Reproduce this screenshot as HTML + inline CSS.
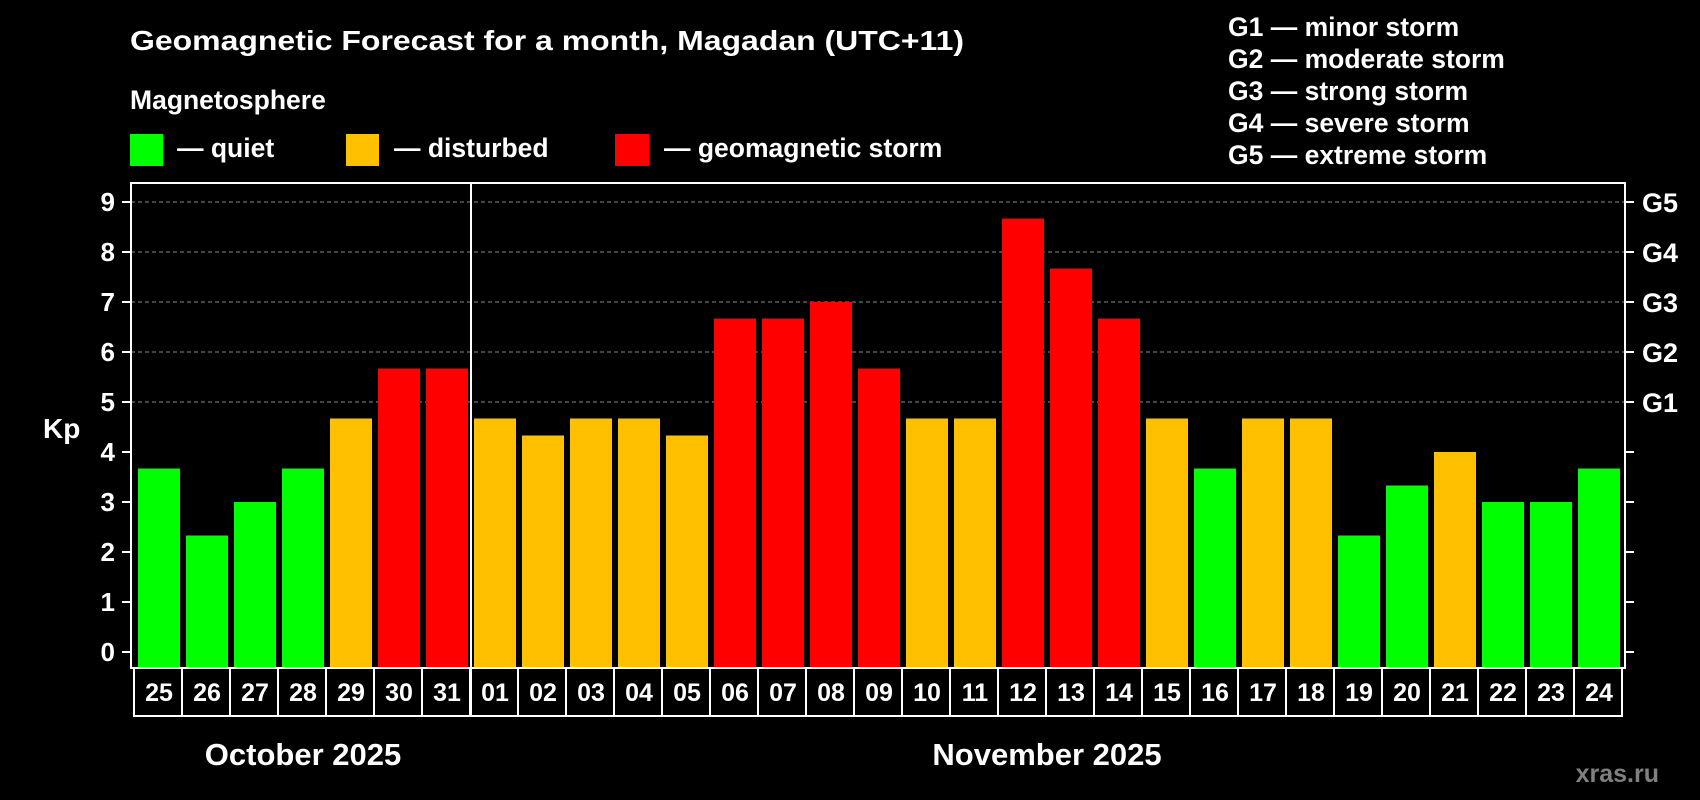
<!DOCTYPE html>
<html><head><meta charset="utf-8"><style>
html,body{margin:0;padding:0;background:#000;width:1700px;height:800px;overflow:hidden}
svg text{font-family:"Liberation Sans",Arial,sans-serif;font-weight:bold;fill:#fff}
</style></head><body>
<svg id="chart" width="1700" height="800" viewBox="0 0 1700 800" xmlns="http://www.w3.org/2000/svg">
<rect width="1700" height="800" fill="#000"/>
<text x="130" y="50" font-size="28" textLength="834" lengthAdjust="spacingAndGlyphs">Geomagnetic Forecast for a month, Magadan (UTC+11)</text>
<text x="130" y="109" font-size="26.5">Magnetosphere</text>
<g><rect x="130" y="134" width="33" height="32" fill="#00ff00"/><text x="177" y="157" font-size="26.5">— quiet</text></g>
<g><rect x="346" y="134" width="33" height="32" fill="#ffc000"/><text x="394" y="157" font-size="26.5">— disturbed</text></g>
<g><rect x="615" y="134" width="34" height="32" fill="#ff0000"/><text x="664" y="157" font-size="26.5">— geomagnetic storm</text></g>
<g font-size="26.5">
<text x="1228" y="36">G1 — minor storm</text>
<text x="1228" y="68">G2 — moderate storm</text>
<text x="1228" y="100">G3 — strong storm</text>
<text x="1228" y="132">G4 — severe storm</text>
<text x="1228" y="164">G5 — extreme storm</text>
</g>
<g id="grid"></g><g id="bars"></g><g id="axes"></g>
<text x="43" y="438" font-size="28">Kp</text>
<text x="303" y="765" font-size="31" text-anchor="middle">October 2025</text>
<text x="1047" y="765" font-size="31" text-anchor="middle">November 2025</text>
<text x="1659" y="782" font-size="25" text-anchor="end" style="fill:#808080">xras.ru</text>
</svg>
<script>
const days = ["25","26","27","28","29","30","31","01","02","03","04","05","06","07","08","09","10","11","12","13","14","15","16","17","18","19","20","21","22","23","24"];
const kpValues = [3.67,2.33,3,3.67,4.67,5.67,5.67,4.67,4.33,4.67,4.67,4.33,6.67,6.67,7,5.67,4.67,4.67,8.67,7.67,6.67,4.67,3.67,4.67,4.67,2.33,3.33,4,3,3,3.67];
const yTicks = [0,1,2,3,4,5,6,7,8,9];
const gLabels = ["G1","G2","G3","G4","G5"];
const gLevels = [5,6,7,8,9];

const NS="http://www.w3.org/2000/svg";
const L=131,R=1625,T=183,B=668,X0=138,PITCH=48,BW=42;
const y=v=>652-50*v;
const x=i=>X0+i*PITCH;
function mk(tag,attrs,parent){const e=document.createElementNS(NS,tag);for(const k in attrs)e.setAttribute(k,attrs[k]);parent.appendChild(e);return e;}
const grid=document.getElementById('grid'),bars=document.getElementById('bars'),axes=document.getElementById('axes');
yTicks.forEach(v=>{
  if(v>=5){const g=mk('line',{x1:L,x2:R,y1:y(v),y2:y(v),stroke:'#8a8a8a','stroke-width':1,'stroke-dasharray':'4 3'},grid);
  
  }
  const t=mk('line',{x1:L-9,x2:L,y1:y(v),y2:y(v),stroke:'#fff','stroke-width':2},axes);
  
  
  const t2=mk('line',{x1:R,x2:R+9,y1:y(v),y2:y(v),stroke:'#fff','stroke-width':2},axes);
  
  
  const lb=mk('text',{x:115,y:y(v)+9,'font-size':26,'text-anchor':'end'},axes);lb.textContent=v;
  
  
});
gLabels.forEach((g,i)=>{
  const lb=mk('text',{x:1642,y:y(gLevels[i])+10,'font-size':27},axes);lb.textContent=g;
  
  
});
kpValues.forEach((v,i)=>{
  const c=v>=5?'#ff0000':(v>=4?'#ffc000':'#00ff00');
  const b=mk('rect',{x:x(i),y:y(v),width:BW,height:B-y(v),fill:c},bars);
  
  
  const cell=mk('rect',{x:x(i)-4,y:B,width:PITCH,height:48,fill:'none',stroke:'#fff','stroke-width':2},axes);
  
  
  const t=mk('text',{x:x(i)+BW/2,y:701,'font-size':25,'text-anchor':'middle'},axes);t.textContent=days[i];
  
  
});
const fr=mk('rect',{x:L,y:T,width:R-L,height:B-T,fill:'none',stroke:'#fff','stroke-width':2},axes);


const sep=mk('line',{x1:471,x2:471,y1:T,y2:716,stroke:'#fff','stroke-width':2},axes);


</script>
</body></html>
